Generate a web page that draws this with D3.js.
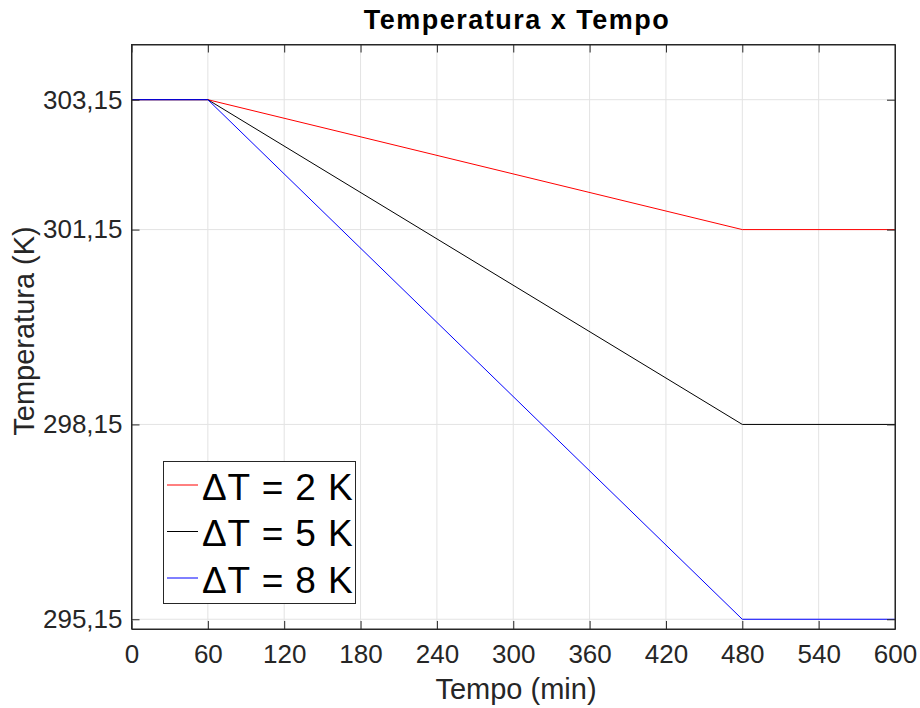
<!DOCTYPE html>
<html><head><meta charset="utf-8">
<script src="https://cdn.jsdelivr.net/npm/d3@7"></script>
<style>body{margin:0;background:#fff;} text{font-family:"Liberation Sans",Arial,sans-serif;}</style>
</head><body><svg id="c" width="920" height="708"></svg>
<script>
const timeMin = [0, 60, 480, 600];
const seriesNames = ["ΔT = 2 K", "ΔT = 5 K", "ΔT = 8 K"];
const seriesColors = ["#ff0000", "#000000", "#0000ff"];
const tempRed = [303.15, 303.15, 301.15, 301.15];
const tempBlack = [303.15, 303.15, 298.15, 298.15];
const tempBlue = [303.15, 303.15, 295.15, 295.15];
const xTicks = [0, 60, 120, 180, 240, 300, 360, 420, 480, 540, 600];
const yTicks = [295.15, 298.15, 301.15, 303.15];
const allSeries = [tempRed, tempBlack, tempBlue];

const svg = d3.select("#c");
const L = 131.5, R = 895, T = 44.5, B = 629;
const x = d3.scaleLinear().domain([0, 600]).range([L, R]);
const y = d3.scaleLinear().domain([295, 304]).range([B, T]);
const axisCol = "#262626", gridCol = "#e3e3e3";

// grid
const g = svg.append("g");
g.selectAll(".gx").data(xTicks).enter().append("line")
  .attr("x1", d => x(d)).attr("x2", d => x(d)).attr("y1", T).attr("y2", B)
  .attr("stroke", gridCol).attr("stroke-width", 1);
g.selectAll(".gy").data(yTicks).enter().append("line")
  .attr("y1", d => y(d)).attr("y2", d => y(d)).attr("x1", L).attr("x2", R)
  .attr("stroke", gridCol).attr("stroke-width", 1);

// lines
const line = d3.line().x((d, i) => x(timeMin[i])).y(d => y(d));
allSeries.forEach((s, i) => {
  svg.append("path").attr("d", line(s)).attr("fill", "none")
    .attr("stroke", seriesColors[i]).attr("stroke-width", 1);
});

// axes
const fmt = d => d3.format(".2f")(d).replace(".", ",");
const tickFont = "26px";
const ax = svg.append("g").attr("transform", `translate(0,${B})`)
  .call(d3.axisBottom(x).tickValues(xTicks).tickSize(-8).tickSizeOuter(0).tickPadding(16).tickFormat(d3.format("d")));
const axT = svg.append("g").attr("transform", `translate(0,${T})`)
  .call(d3.axisTop(x).tickValues(xTicks).tickSize(-8).tickSizeOuter(0).tickFormat(""));
const ay = svg.append("g").attr("transform", `translate(${L},0)`)
  .call(d3.axisLeft(y).tickValues(yTicks).tickSize(-8).tickSizeOuter(0).tickPadding(9).tickFormat(fmt));
const ayR = svg.append("g").attr("transform", `translate(${R},0)`)
  .call(d3.axisRight(y).tickValues(yTicks).tickSize(-8).tickSizeOuter(0).tickFormat(""));
[ax, axT, ay, ayR].forEach(a => {
  a.select(".domain").attr("stroke", axisCol);
  a.selectAll(".tick line").attr("stroke", axisCol);
  a.selectAll(".tick text").attr("fill", axisCol).style("font-size", tickFont)
    .style("font-family", '"Liberation Sans",Arial,sans-serif');
});
svg.append("rect").attr("x", L).attr("y", T).attr("width", R - L).attr("height", B - T)
  .attr("fill", "none").attr("stroke", axisCol).attr("stroke-width", 1);

// labels
svg.append("text").attr("x", 517).attr("y", 28.5).attr("text-anchor", "middle")
  .style("font-size", "27px").style("font-weight", "bold").style("letter-spacing", "1.5px")
  .attr("fill", "#000").text("Temperatura x Tempo");
svg.append("text").attr("x", 516).attr("y", 699).attr("text-anchor", "middle")
  .style("font-size", "29px").attr("fill", axisCol).text("Tempo (min)");
svg.append("text").attr("transform", `translate(33.5,331) rotate(-90)`)
  .attr("text-anchor", "middle").style("font-size", "29px").attr("fill", axisCol)
  .text("Temperatura (K)");

// legend
const lg = svg.append("g");
lg.append("rect").attr("x", 163.5).attr("y", 461.5).attr("width", 192).attr("height", 142)
  .attr("fill", "#fff").attr("stroke", axisCol).attr("stroke-width", 1);
const rowY = [485, 531.5, 578];
seriesNames.forEach((n, i) => {
  lg.append("line").attr("x1", 167).attr("x2", 198).attr("y1", rowY[i]).attr("y2", rowY[i])
    .attr("stroke", seriesColors[i]).attr("stroke-width", 1);
  lg.append("text").attr("x", 202).attr("y", rowY[i] + 14.5).style("font-size", "37px")
    .style("letter-spacing", "0.9px").attr("fill", "#000").text(n);
});
</script></body></html>
